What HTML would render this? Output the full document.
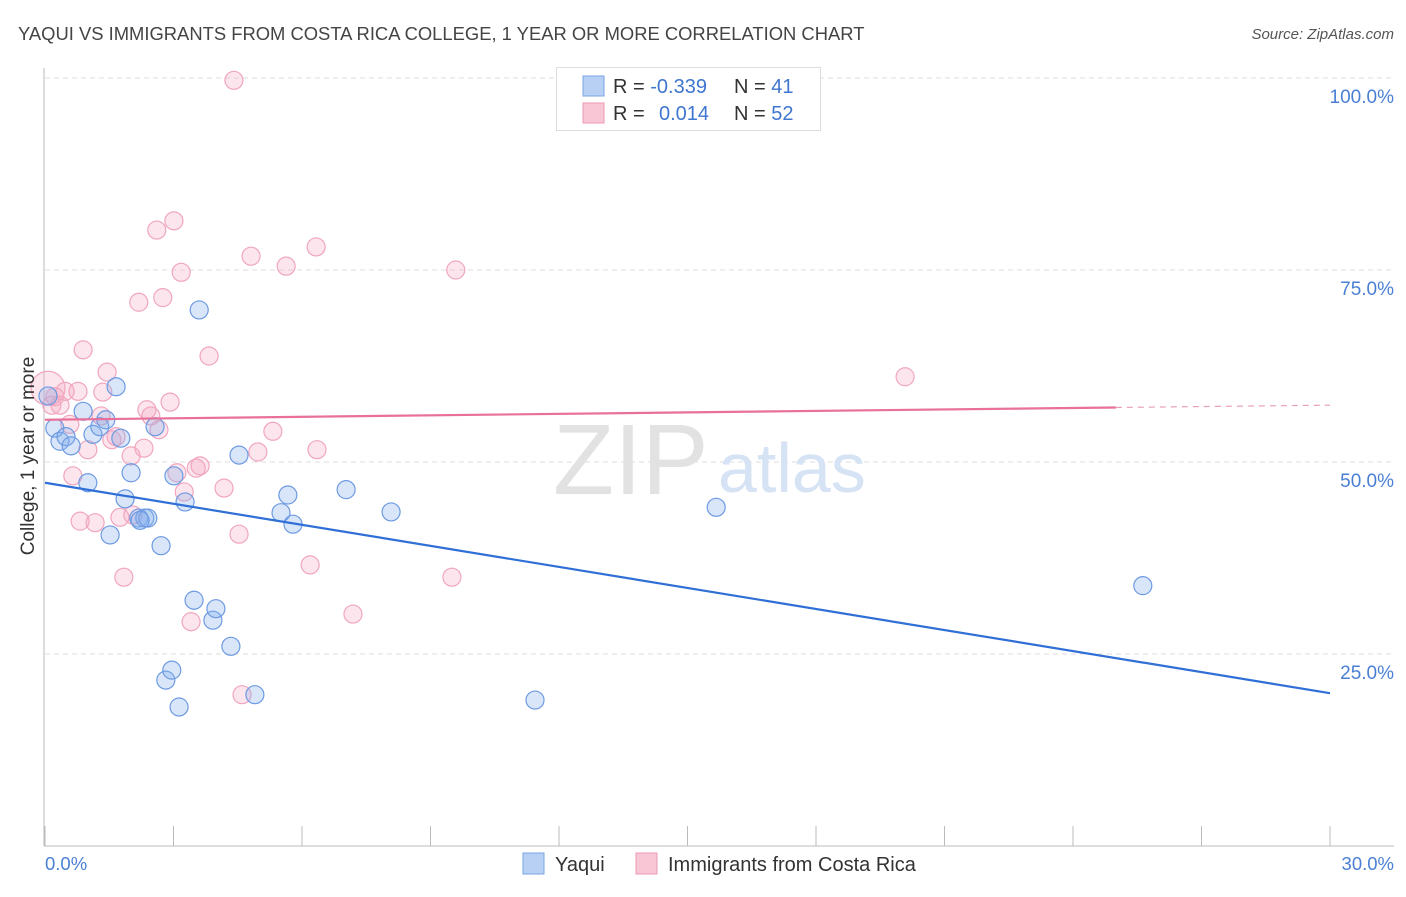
<!DOCTYPE html>
<html><head><meta charset="utf-8"><style>
body{margin:0;background:#fff;font-family:"Liberation Sans",sans-serif}
svg text{font-family:"Liberation Sans",sans-serif}
</style></head><body>
<svg id="c" width="1406" height="892">
<text x="18" y="40" font-size="18.4" fill="#444">YAQUI VS IMMIGRANTS FROM COSTA RICA COLLEGE, 1 YEAR OR MORE CORRELATION CHART</text>
<text x="1394" y="39" font-size="15" fill="#555" font-style="italic" text-anchor="end">Source: ZipAtlas.com</text>
<g id="grid"></g>
<text x="553" y="494" font-size="100" fill="#e2e2e2" font-family="Liberation Serif,serif">ZIP</text>
<text x="718" y="492" font-size="70" fill="#d6e3f5">atlas</text>
<g id="pts"></g>
<g id="lines"></g>
<text transform="translate(34,456) rotate(-90)" font-size="19" fill="#333" text-anchor="middle">College, 1 year or more</text>
<text x="45" y="870" font-size="18.5" fill="#4a7fd4">0.0%</text>
<text x="1394" y="870" font-size="18.5" fill="#4a7fd4" text-anchor="end">30.0%</text>
<g>
<rect x="556.5" y="67.5" width="264" height="63" fill="#fff" stroke="#ddd"/>
<rect x="583" y="76" width="21" height="20" fill="#b8d0f4" stroke="#7aa5e6"/>
<rect x="583" y="103" width="21" height="20" fill="#f9c6d5" stroke="#ec9ab4"/>
<text x="613" y="93" font-size="20" fill="#333">R = <tspan fill="#3f76d0">-0.339</tspan></text>
<text x="734" y="93" font-size="20" fill="#333">N = <tspan fill="#3f76d0"> 41</tspan></text>
<text x="613" y="120" font-size="20" fill="#333">R = <tspan fill="#3f76d0" x="659">0.014</tspan></text>
<text x="734" y="120" font-size="20" fill="#333">N = <tspan fill="#3f76d0">52</tspan></text>
</g>
<g>
<rect x="523" y="853" width="21" height="21" fill="#b8d0f4" stroke="#7aa5e6"/>
<text x="555" y="871" font-size="20" fill="#333">Yaqui</text>
<rect x="636" y="853" width="21" height="21" fill="#f9c6d5" stroke="#ec9ab4"/>
<text x="668" y="871" font-size="20" fill="#333">Immigrants from Costa Rica</text>
</g>
</svg>
<script>
const yTicks=[25,50,75,100];
const yTickLabels=["25.0%","50.0%","75.0%","100.0%"];
const xTicks=[0,3,6,9,12,15,18,21,24,27,30];
const blueX=[0.07,0.23,0.35,0.49,0.61,0.89,1.00,1.12,1.28,1.42,1.52,1.66,1.77,1.87,2.01,2.19,2.33,2.40,2.57,2.71,2.82,2.96,3.01,3.13,3.27,3.48,3.60,3.92,3.99,4.34,4.53,4.90,5.51,5.67,5.79,7.03,8.08,11.44,15.67,25.63,2.22];
const blueY=[58.6,54.4,52.7,53.3,52.1,56.6,47.3,53.6,54.6,55.5,40.5,59.8,53.1,45.2,48.6,42.7,42.7,42.7,54.6,39.1,21.6,22.9,48.2,18.1,44.8,32.0,69.8,29.4,30.9,26.0,50.9,19.7,43.4,45.7,41.9,46.4,43.5,19.0,44.1,33.9,42.4];
const pinkX=[0.07,0.16,0.23,0.35,0.47,0.58,0.65,0.77,0.89,1.00,1.17,1.31,1.35,1.45,1.56,1.66,1.75,1.84,2.01,2.05,2.19,2.31,2.38,2.47,2.61,2.66,2.75,2.92,3.01,3.08,3.18,3.25,3.41,3.53,3.62,3.83,4.18,4.41,4.53,4.60,4.81,4.97,5.32,5.63,6.19,6.33,6.35,7.19,9.50,9.59,20.08,0.82];
const pinkY=[59.6,57.4,58.5,57.4,59.2,54.9,48.2,59.2,64.6,51.6,42.1,56.0,59.1,61.7,52.9,53.3,42.8,35.0,50.8,43.1,70.8,51.8,56.8,56.0,80.2,54.2,71.4,57.8,81.4,48.6,74.7,46.1,29.2,49.2,49.5,63.8,46.6,99.7,40.6,19.7,76.8,51.3,54.0,75.5,36.6,78.0,51.6,30.2,35.0,75.0,61.1,42.3];
const blueTrend=[47.3,19.9];
const pinkTrend=[55.5,57.1,57.4];
const NS="http://www.w3.org/2000/svg";
const X=v=>45+v/30*1285, Y=v=>846-v/100*768;
function mk(p,t,a){const e=document.createElementNS(NS,t);for(const k in a)e.setAttribute(k,a[k]);p.appendChild(e);return e;}
const g=document.getElementById('grid');
yTicks.forEach((t,i)=>{
 const l=mk(g,'line',{x1:45,x2:1394,y1:Y(t),y2:Y(t),stroke:'#ddd','stroke-dasharray':'5,4'});
 
 
 const tx=mk(g,'text',{x:1394,y:Y(t)+25,'font-size':19,fill:'#4a7fd4','text-anchor':'end'});
 tx.textContent=yTickLabels[i];
 
 
});
const ax=mk(g,'line',{x1:44,x2:44,y1:68,y2:846,stroke:'#bbb'});


const bx=mk(g,'line',{x1:44,x2:1394,y1:846,y2:846,stroke:'#bbb'});


xTicks.forEach(t=>{
 const l=mk(g,'line',{x1:X(t),x2:X(t),y1:826,y2:846,stroke:'#bbb'});
 
 
});
const p=document.getElementById('pts');
pinkX.forEach((v,i)=>{
 const c=mk(p,'circle',{cx:X(v),cy:Y(pinkY[i]),r:i==0?17:9,fill:'rgba(246,170,194,0.3)',stroke:'#f0a6be','stroke-width':1.2});
 
 
});
blueX.forEach((v,i)=>{
 const c=mk(p,'circle',{cx:X(v),cy:Y(blueY[i]),r:9,fill:'rgba(130,172,236,0.3)',stroke:'#6d9ae2','stroke-width':1.2});
 
 
});
const L=document.getElementById('lines');
const b=mk(L,'line',{x1:X(0),y1:Y(blueTrend[0]),x2:X(30),y2:Y(blueTrend[1]),stroke:'#2f6fd6','stroke-width':2.2});


const k=mk(L,'line',{x1:X(0),y1:Y(pinkTrend[0]),x2:X(25),y2:Y(pinkTrend[1]),stroke:'#e8709a','stroke-width':2.2});


const kd=mk(L,'line',{x1:X(25),y1:Y(pinkTrend[1]),x2:X(30),y2:Y(pinkTrend[2]),stroke:'#e8a0b8','stroke-width':1.2,'stroke-dasharray':'6,5'});


</script>
</body></html>
